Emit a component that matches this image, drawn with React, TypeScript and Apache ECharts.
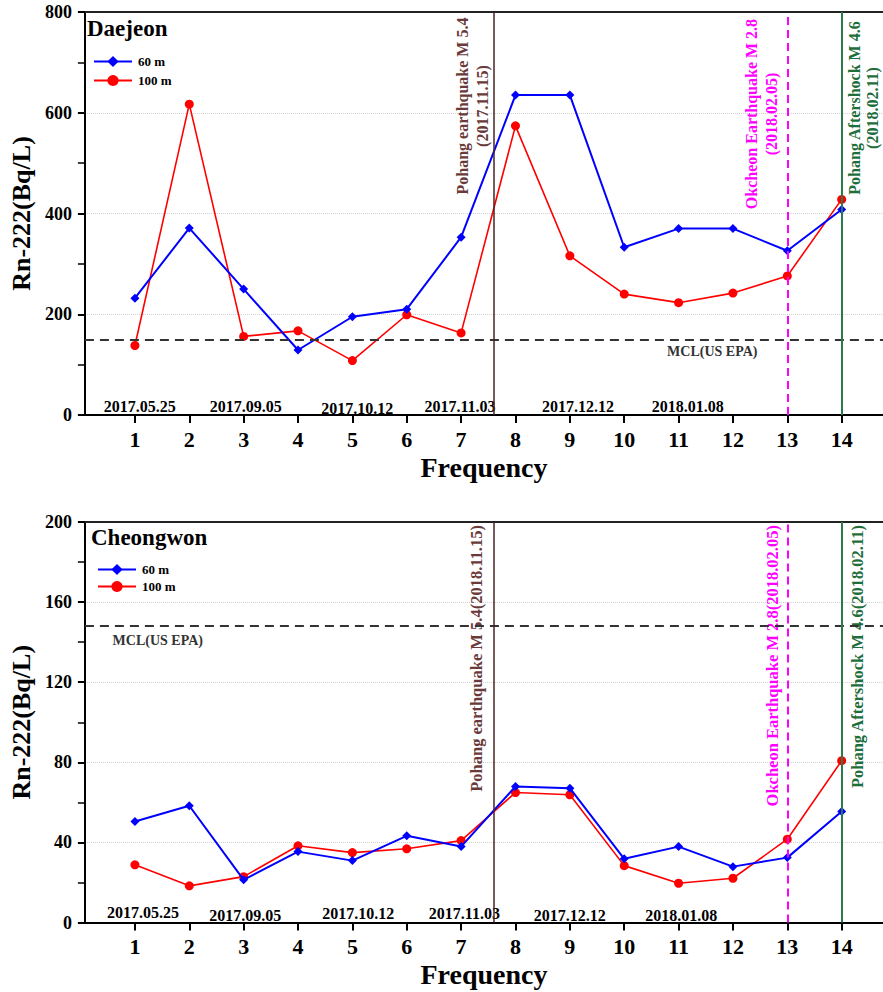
import React, { useEffect, useRef } from "react";
import * as echarts from "echarts";

const FONT = "'Liberation Serif','Times New Roman',serif";

const frequency = [1, 2, 3, 4, 5, 6, 7, 8, 9, 10, 11, 12, 13, 14];

const daejeon60 = [232, 371, 250, 129, 195, 210, 353, 635, 635, 333, 370, 370, 326, 408];
const daejeon100 = [138, 617, 156, 167, 108, 199, 163, 574, 316, 240, 223, 242, 276, 428];

const cheongwon60 = [50.4, 58.3, 21.3, 35.4, 30.9, 43.3, 37.9, 67.9, 67.1, 31.8, 37.9, 27.9, 32.4, 55.4];
const cheongwon100 = [28.8, 18.3, 22.9, 38.3, 34.9, 36.8, 40.9, 64.9, 63.8, 28.4, 19.6, 22.1, 41.6, 80.8];

const seriesNames = ["60 m", "100 m"];
const siteNames = ["Daejeon", "Cheongwon"];

const mclDaejeon = 150;
const mclCheongwon = 148;
const mclLabel = "MCL(US EPA)";

const eventX = [7.6, 13, 14];
const eventLabelsTop = [
  "Pohang earthquake M 5.4\n(2017.11.15)",
  "Okcheon Earthquake M 2.8\n(2018.02.05)",
  "Pohang Aftershock M 4.6\n(2018.02.11)",
];
const eventLabelsBottom = [
  "Pohang earthquake M 5.4(2018.11.15)",
  "Okcheon Earthquake M 2.8(2018.02.05)",
  "Pohang Aftershock M 4.6(2018.02.11)",
];
const eventColors = ["#6a3a3a", "#ff00ff", "#1e6e3c"];
const eventLineColors = ["#4a2424", "#ff00ff", "#2b7a4b"];

const dateLabels = ["2017.05.25", "2017.09.05", "2017.10.12", "2017.11.03", "2017.12.12", "2018.01.08"];
// x positions (in frequency units) of the date annotations
const dateXTop = [1.09, 3.04, 5.09, 6.98, 9.15, 11.17];
const dateXBottom = [1.15, 3.03, 5.11, 7.06, 9.0, 11.05];

const yMaxTop = 800;
const yIntTop = 200;
const yMaxBottom = 200;
const yIntBottom = 40;

const X_MIN = 0.08;
const X_MAX = 14.76;

function pairs(vals: number[]) {
  return frequency.map((f, i) => [f, vals[i]]);
}

export default function App() {
  const ref = useRef<HTMLDivElement>(null);
  useEffect(() => {
    if (!ref.current) return;
    const chart = echarts.init(ref.current, null, { renderer: "svg" });

    const xAxisBase = (gridIndex: number) => ({
      type: "value",
      gridIndex,
      min: X_MIN,
      max: X_MAX,
      axisLine: { show: true, onZero: false, lineStyle: { color: "#000", width: 2 } },
      axisTick: { show: true, customValues: frequency, length: 8, lineStyle: { color: "#000", width: 2 } },
      axisLabel: {
        customValues: frequency,
        fontSize: 22,
        fontWeight: "bold",
        fontFamily: FONT,
        color: "#000",
        margin: 13,
      },
      splitLine: { show: false },
      name: "Frequency",
      nameLocation: "middle",
      nameGap: 38,
      nameTextStyle: { fontSize: 28, fontWeight: "bold", fontFamily: FONT, color: "#000" },
    });
    const xAxisTop = (gridIndex: number) => ({
      type: "value",
      gridIndex,
      position: "top",
      min: 0,
      max: 1,
      axisLine: { show: true, onZero: false, lineStyle: { color: "#222", width: 2 } },
      axisTick: { show: false },
      axisLabel: { show: false },
      splitLine: { show: false },
    });
    const yAxis = (gridIndex: number, max: number, interval: number) => ({
      type: "value",
      gridIndex,
      min: 0,
      max,
      interval,
      axisLine: { show: true, onZero: false, lineStyle: { color: "#000", width: 2 } },
      axisTick: { show: true, length: 7, lineStyle: { color: "#000", width: 2 } },
      minorTick: { show: true, splitNumber: 2, length: 7, lineStyle: { color: "#000", width: 1.5 } },
      axisLabel: { fontSize: 18, fontWeight: "bold", fontFamily: FONT, color: "#000", margin: 13 },
      splitLine: { show: true, lineStyle: { color: "#cfcfcf", type: "dotted", width: 1 } },
      name: "Rn-222(Bq/L)",
      nameLocation: "middle",
      nameGap: 45,
      nameTextStyle: { fontSize: 26, fontWeight: "bold", fontFamily: FONT, color: "#000" },
    });

    const markLines = (mcl: number) => ({
      silent: true,
      symbol: "none",
      label: { show: false },
      data: [
        { yAxis: mcl, lineStyle: { color: "#333", type: [9, 6], width: 1.8 } },
        { xAxis: eventX[0], lineStyle: { color: eventLineColors[0], type: "solid", width: 1.5 } },
        { xAxis: eventX[1], lineStyle: { color: eventLineColors[1], type: [8, 5], width: 2 } },
        { xAxis: eventX[2], lineStyle: { color: eventLineColors[2], type: "solid", width: 2 } },
      ],
    });

    const blueSeries = (xi: number, yi: number, data: number[], mcl: number) => ({
      name: seriesNames[0],
      type: "line",
      xAxisIndex: xi,
      yAxisIndex: yi,
      data: pairs(data),
      symbol: "diamond",
      symbolSize: 9,
      lineStyle: { color: "#0000ff", width: 2 },
      itemStyle: { color: "#0000ff" },
      z: 4,
      markLine: markLines(mcl),
    });
    const redSeries = (xi: number, yi: number, data: number[]) => ({
      name: seriesNames[1],
      type: "line",
      xAxisIndex: xi,
      yAxisIndex: yi,
      data: pairs(data),
      symbol: "circle",
      symbolSize: 9,
      lineStyle: { color: "#ff0000", width: 1.6 },
      itemStyle: { color: "#ff0000" },
      z: 3,
    });

    const legend = (top: number, left: number, gap: number) => ({
      orient: "vertical",
      top,
      left,
      itemWidth: 38,
      itemHeight: 14,
      itemGap: gap,
      data: seriesNames,
      textStyle: { fontSize: 13, fontWeight: "bold", fontFamily: FONT, color: "#000", padding: [0, 0, 0, 1] },
      selectedMode: false,
    });

    chart.setOption({
      animation: false,
      backgroundColor: "#fff",
      grid: [
        { left: 83, top: 12, right: 0, height: 403 },
        { left: 83, top: 522, right: 0, height: 400.5 },
      ],
      legend: [legend(50, 88, 6), legend(558, 92, 4)],
      xAxis: [xAxisBase(0), xAxisTop(0), xAxisBase(1), xAxisTop(1)],
      yAxis: [yAxis(0, yMaxTop, yIntTop), yAxis(1, yMaxBottom, yIntBottom)],
      series: [
        blueSeries(0, 0, daejeon60, mclDaejeon),
        redSeries(0, 0, daejeon100),
        blueSeries(2, 1, cheongwon60, mclCheongwon),
        redSeries(2, 1, cheongwon100),
      ],
    });

    // Annotations positioned from the axes
    const px = (grid: number, x: number, y: number) =>
      chart.convertToPixel({ xAxisIndex: grid === 0 ? 0 : 2, yAxisIndex: grid }, [x, y]) as number[];

    const textStyleBase = { fontFamily: FONT, fontWeight: "bold" };
    const graphics: any[] = [];

    // titles
    graphics.push({
      type: "text",
      x: 87,
      y: 28,
      style: { ...textStyleBase, text: siteNames[0], fontSize: 23, fill: "#000", verticalAlign: "middle" },
    });
    graphics.push({
      type: "text",
      x: 91,
      y: 537,
      style: { ...textStyleBase, text: siteNames[1], fontSize: 23, fill: "#000", verticalAlign: "middle" },
    });

    // MCL labels
    const mclTop = px(0, 11.62, mclDaejeon);
    graphics.push({
      type: "text",
      x: mclTop[0],
      y: mclTop[1] + 12,
      style: { ...textStyleBase, text: mclLabel, fontSize: 14, fill: "#333", align: "center", verticalAlign: "middle" },
    });
    const mclBot = px(1, 1.42, mclCheongwon);
    graphics.push({
      type: "text",
      x: mclBot[0],
      y: mclBot[1] + 14,
      style: { ...textStyleBase, text: mclLabel, fontSize: 14, fill: "#333", align: "center", verticalAlign: "middle" },
    });

    // event labels
    const topOffsets = [-21, -26, 22];
    const topLineHeights = [20, 20, 18];
    const topCenters = [106, 114, 108];
    eventX.forEach((ex, i) => {
      const p = px(0, ex, 0);
      graphics.push({
        type: "text",
        x: p[0] + topOffsets[i],
        y: topCenters[i],
        rotation: Math.PI / 2,
        style: {
          ...textStyleBase,
          text: eventLabelsTop[i],
          fontSize: 16,
          lineHeight: topLineHeights[i],
          fill: eventColors[i],
          align: "center",
          verticalAlign: "middle",
        },
      });
    });
    const botOffsets = [-17, -15, 16];
    eventX.forEach((ex, i) => {
      const p = px(1, ex, yMaxBottom);
      graphics.push({
        type: "text",
        x: p[0] + botOffsets[i],
        y: p[1] + 3,
        rotation: Math.PI / 2,
        style: {
          ...textStyleBase,
          text: eventLabelsBottom[i],
          fontSize: 16.5,
          fill: eventColors[i],
          align: "right",
          verticalAlign: "middle",
        },
      });
    });

    // date labels
    const topDy = [-9, -9, -7, -9, -9, -9];
    const botDy = [-10, -7, -9, -9, -7, -7];
    dateLabels.forEach((d, i) => {
      const p = px(0, dateXTop[i], 0);
      graphics.push({
        type: "text",
        x: p[0],
        y: p[1] + topDy[i],
        style: { ...textStyleBase, text: d, fontSize: 16, fill: "#000", align: "center", verticalAlign: "middle" },
      });
      const q = px(1, dateXBottom[i], 0);
      graphics.push({
        type: "text",
        x: q[0],
        y: q[1] + botDy[i],
        style: { ...textStyleBase, text: d, fontSize: 16, fill: "#000", align: "center", verticalAlign: "middle" },
      });
    });

    chart.setOption({ graphic: graphics });

    return () => chart.dispose();
  }, []);

  return (
    <div
      ref={ref}
      style={{ position: "fixed", left: 0, top: 0, width: 883, height: 992, background: "#fff" }}
    />
  );
}
